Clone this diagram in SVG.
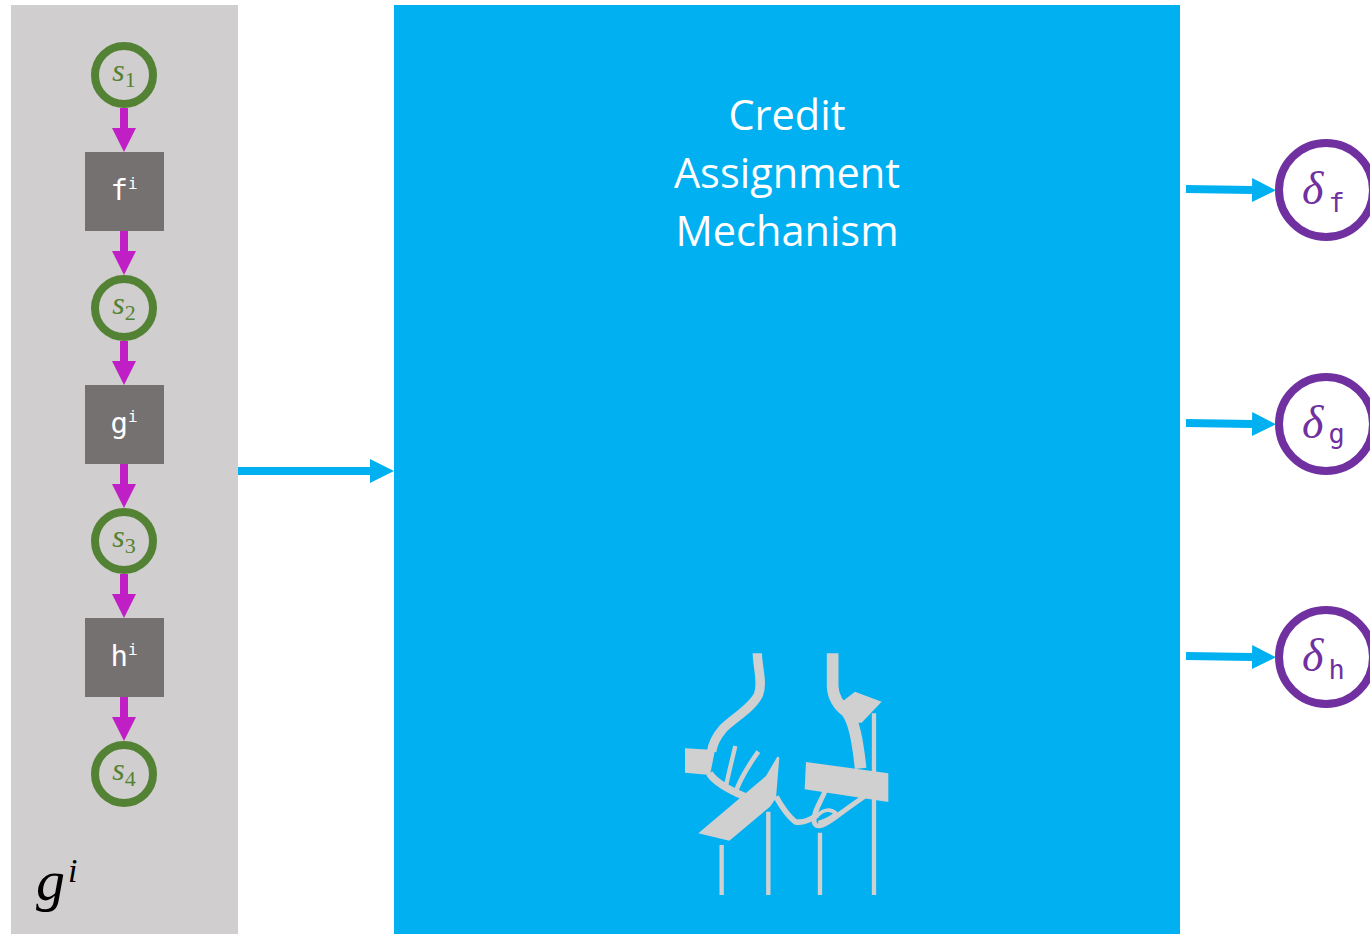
<svg xmlns="http://www.w3.org/2000/svg" width="1370" height="934" viewBox="0 0 1370 934">
  <style>
    .panel { fill: #d0cece; }
    .block { fill: #00b0f0; }
    .state { fill: none; stroke: #548235; stroke-width: 8; }
    .op { fill: #767171; }
    .delta { fill: #ffffff; stroke: #7030a0; stroke-width: 8; }
    .flow { stroke: #c01fc6; stroke-width: 8; fill: none; }
    .out { stroke: #00b0f0; stroke-width: 8; fill: none; }
    .st { font-family: "Liberation Serif", "DejaVu Serif", serif; font-style: italic; font-size: 32px; fill: #548235; text-anchor: middle; }
    .st .sub { font-style: normal; font-size: 22px; }
    .opt { font-family: "DejaVu Sans Mono", "Liberation Mono", monospace; font-size: 29px; fill: #ffffff; text-anchor: middle; }
    .opt .sup { font-size: 16px; }
    .dt { font-family: "Liberation Serif", "DejaVu Serif", serif; font-style: italic; font-size: 46px; fill: #7030a0; }
    .dt .sub { font-family: "DejaVu Sans Mono", "Liberation Mono", monospace; font-style: normal; font-size: 27px; }
    .title { font-family: "Open Sans", "Noto Sans", sans-serif; font-size: 41.5px; fill: #ffffff; text-anchor: middle; }
    .label { font-family: "Liberation Serif", "DejaVu Serif", serif; font-style: italic; font-size: 58px; fill: #000000; }
    .label .sup { font-size: 34px; }
    .art { fill: #d0d0d0; }
    .artl { fill: none; stroke: #d0d0d0; stroke-linecap: butt; stroke-linejoin: round; }
  </style>
  <defs>
    <marker id="headM" viewBox="0 0 24 24" refX="0" refY="12" markerWidth="24" markerHeight="24" markerUnits="userSpaceOnUse" orient="auto">
      <path d="M0,0 L24,12 L0,24 Z" fill="#c01fc6"/>
    </marker>
    <marker id="headB" viewBox="0 0 24 24" refX="0" refY="12" markerWidth="24" markerHeight="24" markerUnits="userSpaceOnUse" orient="auto">
      <path d="M0,0 L24,12 L0,24 Z" fill="#00b0f0"/>
    </marker>
  </defs>

  <!-- left panel holding the chain -->
  <g id="panel">
    <rect class="panel" x="11" y="5" width="227" height="929"/>
    <text class="label" x="36" y="900">g<tspan class="sup" dx="3" dy="-18">i</tspan></text>
  </g>

  <!-- credit assignment block -->
  <g id="mechanism">
    <rect class="block" x="394" y="5" width="786" height="929"/>
    <text class="title" x="787" y="130">Credit</text>
    <text class="title" x="787" y="188">Assignment</text>
    <text class="title" x="787" y="246">Mechanism</text>
    <!-- clasped hands icon -->
    <g transform="translate(670,640) scale(0.3333)">
      <path class="artl" stroke-width="28" d="M262,40 C262,80 280,130 265,165 C245,205 190,235 160,265 C138,290 128,310 125,335"/>
      <path class="art" d="M45,325 L135,330 L120,405 L45,398 Z"/>
      <path class="artl" stroke-width="22" d="M118,400 C135,425 165,445 225,470"/>
      <path class="artl" stroke-width="13" d="M196,318 C186,360 176,400 168,438"/>
      <path class="artl" stroke-width="14" d="M265,335 C240,370 215,410 200,448"/>
      <path class="art" d="M85,580 L288,408 L322,350 L328,352 L318,475 L300,500 L178,602 Z"/>
      <path class="artl" stroke-width="17" d="M318,470 C335,500 350,525 375,545 C395,550 420,540 442,525"/>
      <path class="artl" stroke-width="35" d="M488,40 L488,140 C490,175 510,200 530,215 C552,245 562,295 572,385"/>
      <path class="art" d="M512,188 L555,155 L635,185 L575,248 L545,248 Z"/>
      <path class="art" d="M408,366 L655,400 L655,486 L404,448 Z"/>
      <path class="artl" stroke-width="15" d="M466,452 C450,490 430,515 432,545 C436,568 462,556 490,536 C512,520 542,498 585,468"/>
      <path class="artl" stroke-width="11" d="M442,527 C460,508 482,505 498,520 C485,532 465,542 445,548"/>
      <path class="artl" stroke-width="13" d="M155,615 V765 M295,515 V765 M450,578 V765 M612,220 V765"/>
    </g>
  </g>

  <!-- states of the chain -->
  <g id="s1"><circle class="state" cx="124" cy="75" r="29"/><text class="st" x="124" y="81">s<tspan class="sub" dy="6">1</tspan></text></g>
  <g id="s2"><circle class="state" cx="124" cy="308" r="29"/><text class="st" x="124" y="314">s<tspan class="sub" dy="6">2</tspan></text></g>
  <g id="s3"><circle class="state" cx="124" cy="541" r="29"/><text class="st" x="124" y="547">s<tspan class="sub" dy="6">3</tspan></text></g>
  <g id="s4"><circle class="state" cx="124" cy="774" r="29"/><text class="st" x="124" y="780">s<tspan class="sub" dy="6">4</tspan></text></g>

  <!-- operations of the chain -->
  <g id="f"><rect class="op" x="85" y="152" width="79" height="79"/><text class="opt" x="124" y="200">f<tspan class="sup" dy="-11">i</tspan></text></g>
  <g id="g"><rect class="op" x="85" y="385" width="79" height="79"/><text class="opt" x="124" y="433">g<tspan class="sup" dy="-11">i</tspan></text></g>
  <g id="h"><rect class="op" x="85" y="618" width="79" height="79"/><text class="opt" x="124" y="666">h<tspan class="sup" dy="-11">i</tspan></text></g>

  <!-- per-operation credit outputs -->
  <g id="delta-f"><circle class="delta" cx="1326" cy="190" r="47"/><text class="dt" x="1302" y="204">δ<tspan class="sub" dx="5" dy="8">f</tspan></text></g>
  <g id="delta-g"><circle class="delta" cx="1326" cy="424" r="47"/><text class="dt" x="1302" y="438">δ<tspan class="sub" dx="5" dy="5">g</tspan></text></g>
  <g id="delta-h"><circle class="delta" cx="1326" cy="657" r="47"/><text class="dt" x="1302" y="671">δ<tspan class="sub" dx="5" dy="8">h</tspan></text></g>

  <!-- connectors -->
  <g id="connectors">
    <line class="flow" x1="124" y1="108" x2="124" y2="128" marker-end="url(#headM)"/>
    <line class="flow" x1="124" y1="231" x2="124" y2="251" marker-end="url(#headM)"/>
    <line class="flow" x1="124" y1="341" x2="124" y2="361" marker-end="url(#headM)"/>
    <line class="flow" x1="124" y1="464" x2="124" y2="484" marker-end="url(#headM)"/>
    <line class="flow" x1="124" y1="574" x2="124" y2="594" marker-end="url(#headM)"/>
    <line class="flow" x1="124" y1="697" x2="124" y2="717" marker-end="url(#headM)"/>
    <line class="out" x1="238" y1="471" x2="370" y2="471" marker-end="url(#headB)"/>
    <line class="out" x1="1186" y1="189" x2="1252" y2="190" marker-end="url(#headB)"/>
    <line class="out" x1="1186" y1="423" x2="1252" y2="424" marker-end="url(#headB)"/>
    <line class="out" x1="1186" y1="656" x2="1252" y2="657" marker-end="url(#headB)"/>
  </g>
</svg>
